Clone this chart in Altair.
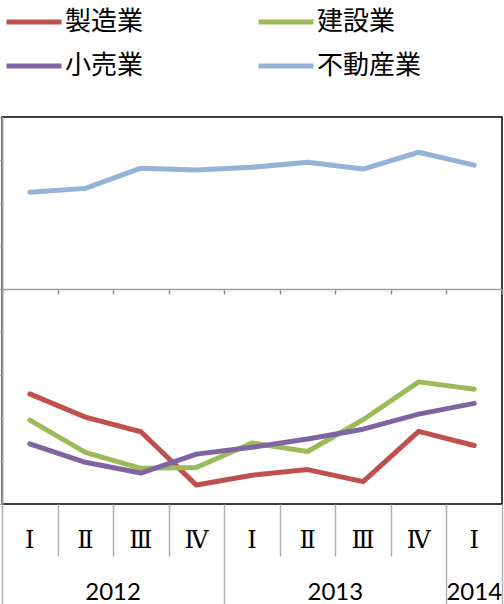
import altair as alt
import pandas as pd

# Quarterly periods (year / quarter)
years = ["2012", "2012", "2012", "2012", "2013", "2013", "2013", "2013", "2014"]
quarters = ["Ⅰ", "Ⅱ", "Ⅲ", "Ⅳ", "Ⅰ", "Ⅱ", "Ⅲ", "Ⅳ", "Ⅰ"]

# Series names and colours
series_names = ["製造業", "建設業", "小売業", "不動産業"]
series_colors = ["#C0504D", "#9BBB59", "#8064A2", "#95B3D7"]

# Values per series
seizo = [-24.4, -29.8, -33.2, -45.6, -43.3, -42.0, -44.8, -33.1, -36.4]
kensetsu = [-30.5, -38.0, -41.7, -41.5, -35.8, -37.8, -30.4, -21.6, -23.3]
kouri = [-36.0, -40.3, -42.8, -38.4, -36.8, -34.9, -32.6, -29.1, -26.6]
fudosan = [22.5, 23.4, 28.1, 27.7, 28.3, 29.5, 27.9, 31.8, 28.8]

y_min, y_max = -50, 40
W, H = 500, 387

periods = [f"{y}-{q}" for y, q in zip(years, quarters)]
# last quarter of each year: band ends there mark a year boundary
year_ends = [p for i, p in enumerate(periods) if i == len(periods) - 1 or years[i] != years[i + 1]]
# year label anchors: label sits at middle of each year's run of quarters
year_anchor, year_shift = [], []
for yv in dict.fromkeys(years):
    idx = [i for i, v in enumerate(years) if v == yv]
    mid = (len(idx) - 1) / 2
    year_anchor.append(periods[idx[0] + int(mid)])
    year_shift.append((mid - int(mid)) * W / len(periods))

rows = []
for name, vals in zip(series_names, [seizo, kensetsu, kouri, fudosan]):
    for p, v in zip(periods, vals):
        rows.append({"period": p, "series": name, "value": v})
df = pd.DataFrame(rows)
pdf = pd.DataFrame({"period": periods})

xscale = alt.Scale(type="band", domain=periods, paddingInner=0, paddingOuter=0)
zero_offset = -(H - H * y_max / (y_max - y_min))


def in_list(lst):
    return "indexof([" + ",".join(f"'{v}'" for v in lst) + "], datum.value) >= 0"


lines = alt.Chart(df).mark_line(strokeWidth=5, strokeCap="round", strokeJoin="round").encode(
    x=alt.X("period:N", scale=xscale, sort=periods, title=None,
            axis=alt.Axis(orient="bottom", offset=zero_offset, labels=False, grid=False,
                          domainColor="#A0A0A0", domainWidth=1.5, tickBand="extent",
                          tickSize=5, tickColor="#8C8C8C", tickWidth=1.5)),
    y=alt.Y("value:Q", scale=alt.Scale(domain=[y_min, y_max], nice=False, zero=False), title=None,
            axis=alt.Axis(labels=False, grid=False, values=list(range(y_min, y_max + 1, 10)),
                          domainColor="#A0A0A0", domainWidth=2, tickSize=3,
                          tickColor="#A0A0A0", tickWidth=1)),
    color=alt.Color("series:N", scale=alt.Scale(domain=series_names, range=series_colors),
                    legend=alt.Legend(orient="none", legendX=2, legendY=-125, columns=2,
                                      direction="horizontal",
                                      columnPadding=104, rowPadding=1, symbolType="stroke",
                                      symbolSize=3025, symbolStrokeWidth=5, labelOffset=1,
                                      labelFont="Noto Sans CJK JP", labelFontSize=26,
                                      labelColor="#000000", labelLimit=0, title=None, padding=0)),
    order=alt.Order("period:N"),
)

separators = alt.Chart(pdf).mark_point(opacity=0).encode(
    x=alt.X("period:N", scale=xscale, sort=periods, title=None,
            axis=alt.Axis(orient="bottom", labels=False, domain=False, grid=False,
                          tickBand="extent", tickColor="#B0B0B0", tickWidth=1.5,
                          tickSize={"condition": {"test": "!datum.value || " + in_list(year_ends),
                                                  "value": 100},
                                    "value": 52}))
)

quarter_axis = alt.Chart(pdf).mark_point(opacity=0).encode(
    x=alt.X("period:N", scale=xscale, sort=periods, title=None,
            axis=alt.Axis(orient="bottom", ticks=False, domain=False, grid=False,
                          labelExpr="slice(datum.value, 5)", labelFont="DejaVu Serif",
                          labelFontSize=24, labelColor="#000000", labelPadding=24,
                          labelOverlap=False, labelAngle=0))
)

shift_cond = {"condition": [{"test": f"datum.value == '{a}'", "value": s}
                            for a, s in zip(year_anchor, year_shift)], "value": 0}
year_axis = alt.Chart(pdf).mark_point(opacity=0).encode(
    x=alt.X("period:N", scale=xscale, sort=periods, title=None,
            axis=alt.Axis(orient="bottom", ticks=False, domain=False, grid=False,
                          labelExpr=f"{in_list(year_anchor)} ? slice(datum.value, 0, 4) : ''",
                          labelFont="Lato", labelFontSize=24, labelColor="#000000",
                          labelPadding=76, labelOverlap=False, labelAngle=0,
                          labelOffset=shift_cond))
)

chart = alt.layer(lines, separators, quarter_axis, year_axis).resolve_axis(
    x="independent"
).properties(
    width=W, height=H, autosize="none",
    padding={"left": 2, "top": 117, "right": 2, "bottom": 100},
).configure_view(stroke="#000000", strokeWidth=1.5)

chart.save("out.html", embed_options={"renderer": "svg", "actions": False})
